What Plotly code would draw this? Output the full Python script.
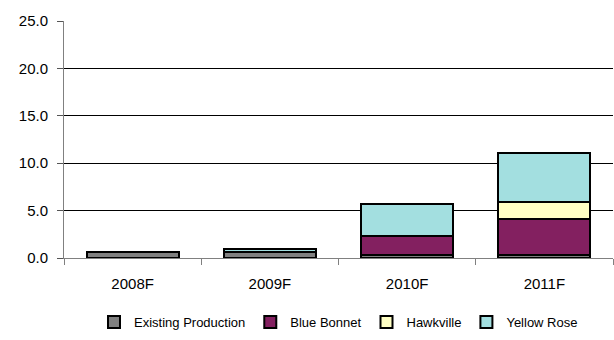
import plotly.graph_objects as go

categories = ["2008F", "2009F", "2010F", "2011F"]
existing = [0.6, 0.6, 0.35, 0.35]
blue_bonnet = [0.0, 0.0, 1.95, 3.8]
hawkville = [0.0, 0.0, 0.0, 1.8]
yellow_rose = [0.0, 0.3, 3.35, 5.1]
y_ticks = [0, 5, 10, 15, 20, 25]

series = [
    ("Existing Production", existing, "#808080"),
    ("Blue Bonnet", blue_bonnet, "#832060"),
    ("Hawkville", hawkville, "#FFFFC4"),
    ("Yellow Rose", yellow_rose, "#A3DFE0"),
]

xpos = list(range(len(categories)))
fig = go.Figure()
for name, vals, col in series:
    fig.add_trace(go.Bar(
        x=xpos, y=vals, name=name, width=0.67,
        marker=dict(color=col, line=dict(color="black", width=2)),
    ))

FAM = "Liberation Sans, Arial, sans-serif"
fig.update_layout(
    barmode="stack",
    width=614, height=340,
    margin=dict(l=64, r=1, t=21, b=82, autoexpand=False),
    paper_bgcolor="white", plot_bgcolor="white",
    font=dict(family=FAM, size=15, color="black"),
    showlegend=True,
    legend=dict(orientation="h", x=0.5, xref="paper", xanchor="center",
                y=(340 - 322) / 340, yref="container", yanchor="middle",
                font=dict(family=FAM, size=13), traceorder="normal",
                itemwidth=30, tracegroupgap=0, itemclick=False),
    xaxis=dict(
        range=[-0.5, len(categories) - 0.5],
        tickmode="array", tickvals=xpos, ticktext=categories,
        ticks="", showgrid=False, zeroline=False,
        showline=True, linecolor="#808080", linewidth=1,
        minor=dict(tick0=-0.5, dtick=1, ticks="outside", ticklen=6,
                   tickcolor="#808080", showgrid=False),
        ticklabelstandoff=12,
    ),
    yaxis=dict(
        range=[0, 25],
        tickmode="array", tickvals=y_ticks,
        ticktext=[f"{v:.1f}" for v in y_ticks],
        ticks="outside", ticklen=6, tickcolor="#555555",
        showgrid=False, zeroline=False,
        showline=True, linecolor="#808080", linewidth=1,
        ticklabelstandoff=6,
        minor=dict(tickvals=y_ticks[1:], showgrid=True, gridcolor="black", gridwidth=1, ticks=""),
    ),
)
fig.write_html("out.html")
